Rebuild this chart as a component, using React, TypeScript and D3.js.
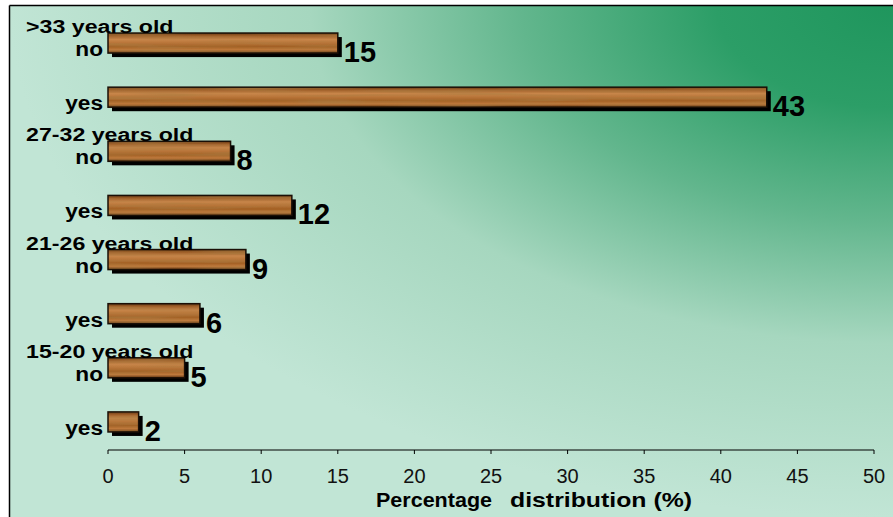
import React from "react";
import * as d3 from "d3";

// Age groups, listed top to bottom, with the share answering "no" / "yes"
const groups = [">33 years old", "27-32 years old", "21-26 years old", "15-20 years old"];
const answers = ["no", "yes"];
const noValues = [15, 8, 9, 5];
const yesValues = [43, 12, 6, 2];
const xTicks = [0, 5, 10, 15, 20, 25, 30, 35, 40, 45, 50];
const xTitleParts = ["Percentage", "distribution (%)"];

type Row = { key: string; group: string; answer: string; value: number; first: boolean };

const rows: Row[] = groups.flatMap((g, i) =>
  answers.map((a, j) => ({
    key: `${g}|${a}`,
    group: g,
    answer: a,
    value: j === 0 ? noValues[i] : yesValues[i],
    first: j === 0,
  }))
);

const W = 893;
const H = 517;
const FONT = "Arial, 'Liberation Sans', Helvetica, sans-serif";

export default function App() {
  const x = d3.scaleLinear().domain([0, 50]).range([108, 874]);
  const y = d3
    .scaleBand<string>()
    .domain(rows.map((r) => r.key))
    .range([16, 449])
    .paddingInner(0.63)
    .paddingOuter(0.315);
  const bh = y.bandwidth();
  const axisY = 450;
  const shadow = 4;
  const frameX = 9.5;
  const frameY = 5.5;

  return (
    <svg
      width={W}
      height={H}
      style={{ position: "absolute", left: 0, top: 0, background: "#fff", overflow: "hidden" }}
      fontFamily={FONT}
    >
      <defs>
        <radialGradient id="bg" cx="1" cy="0" r="1" fx="1" fy="0">
          <stop offset="0" stopColor="#1f965d" />
          <stop offset="0.2" stopColor="#2c9e67" />
          <stop offset="0.42" stopColor="#62b68d" />
          <stop offset="0.66" stopColor="#a6d7bf" />
          <stop offset="1" stopColor="#c1e5d5" />
        </radialGradient>
        <linearGradient id="wood" x1="0" y1="0" x2="0" y2="1">
          <stop offset="0" stopColor="#6a3a14" />
          <stop offset="0.14" stopColor="#a0602a" />
          <stop offset="0.32" stopColor="#c8864a" />
          <stop offset="0.5" stopColor="#b87438" />
          <stop offset="0.68" stopColor="#a26024" />
          <stop offset="0.84" stopColor="#c07a3c" />
          <stop offset="1" stopColor="#5a3210" />
        </linearGradient>
        <filter id="grain" x="0" y="0" width="1" height="1">
          <feTurbulence type="fractalNoise" baseFrequency="0.01 0.3" numOctaves="2" seed="4" result="noise" />
          <feColorMatrix
            in="noise"
            type="matrix"
            values="0 0 0 0 0.4  0 0 0 0 0.2  0 0 0 0 0.05  1.5 0 0 0 -0.6"
            result="streak"
          />
          <feComposite in="streak" in2="SourceGraphic" operator="atop" />
        </filter>
      </defs>

      {/* plot area with its left and top frame edges */}
      <rect x={frameX} y={frameY} width={W - frameX} height={H - frameY} fill="url(#bg)" />
      <line x1={frameX} x2={frameX} y1={frameY} y2={H} stroke="#000" strokeWidth={1.5} />
      <line x1={frameX} x2={W} y1={frameY} y2={frameY} stroke="#000" strokeWidth={1.5} />

      {rows.map((r) => {
        const top = y(r.key)!;
        const x0 = x(0);
        const w = x(r.value) - x0;
        return (
          <g key={r.key}>
            <rect x={x0 + shadow} y={top + shadow} width={w} height={bh} fill="#000" />
            <rect x={x0} y={top} width={w} height={bh} fill="url(#wood)" filter="url(#grain)" />
            <rect x={x0} y={top} width={w} height={bh} fill="none" stroke="#1a0f06" strokeWidth={1.5} />
            <text x={x(r.value) + 6} y={top + 29} fontSize={29} fontWeight="bold" fill="#000">
              {r.value}
            </text>
            <text
              transform={`translate(103,${top + 23}) scale(1.08,1)`}
              textAnchor="end"
              fontSize={21}
              fontWeight="bold"
              fill="#000"
            >
              {r.answer}
            </text>
            {r.first && (
              <text
                transform={`translate(26,${top}) scale(1.22,1)`}
                fontSize={19}
                fontWeight="bold"
                fill="#000"
              >
                {r.group}
              </text>
            )}
          </g>
        );
      })}

      <line x1={x(0)} x2={x(50)} y1={axisY} y2={axisY} stroke="#000" strokeWidth={1.2} />
      {xTicks.map((t) => (
        <g key={t} transform={`translate(${x(t)},${axisY})`}>
          <line y1={0} y2={4} stroke="#000" strokeWidth={1} />
          <text y={33} textAnchor="middle" fontSize={20} fill="#111">
            {t}
          </text>
        </g>
      ))}
      <text x={376} y={507} fontSize={21} fontWeight="bold" fill="#000" textLength={116} lengthAdjust="spacingAndGlyphs">
        {xTitleParts[0]}
      </text>
      <text x={510} y={507} fontSize={21} fontWeight="bold" fill="#000" textLength={182} lengthAdjust="spacingAndGlyphs">
        {xTitleParts[1]}
      </text>
    </svg>
  );
}
